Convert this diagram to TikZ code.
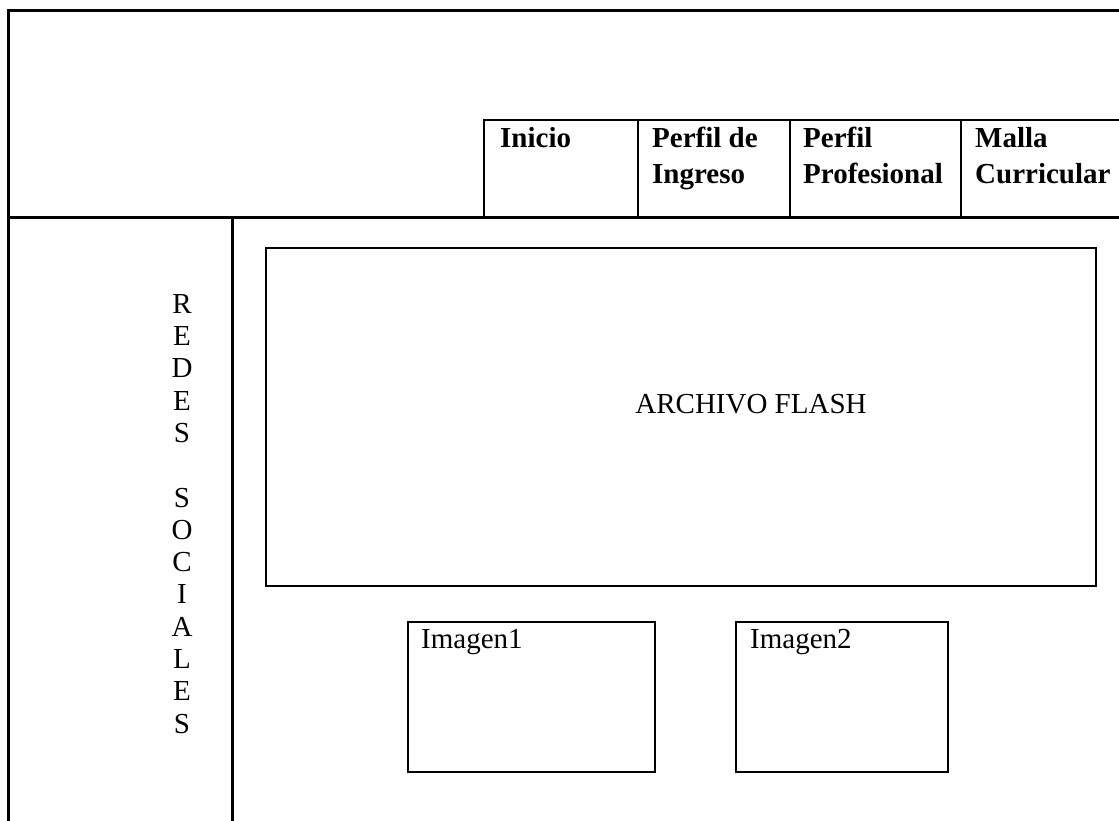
\documentclass[tikz,border=0pt]{standalone}
\usepackage{fontspec}
\setmainfont{Liberation Serif}
\begin{document}
\begin{tikzpicture}[x=1pt,y=-1pt,
  frame/.style={line width=3pt,line cap=rect},
  boxline/.style={line width=2.6pt},
  navtxt/.style={anchor=north west,inner sep=0pt,align=left,font=\fontsize{29}{36}\selectfont\bfseries},
  bodytxt/.style={inner sep=0pt,font=\fontsize{29}{33}\selectfont},
  sidetxt/.style={inner sep=0pt,font=\fontsize{29}{32.3}\selectfont}]
\useasboundingbox (0,0) rectangle (1119,820);
% outer frame
\coordinate (tl) at (8,10);
\coordinate (tr) at (1119,10);
\coordinate (bl) at (8,820);
\coordinate (hl) at (8,217);
\coordinate (hr) at (1119,217);
\coordinate (st) at (232,217);
\coordinate (sb) at (232,820);
\draw[frame] (bl) -- (tl) -- (tr);
\draw[frame] (hl) -- (hr);
\draw[frame] (st) -- (sb);
% navigation table
\coordinate (n0t) at (484,120); \coordinate (n0b) at (484,217);
\coordinate (n1t) at (638,120); \coordinate (n1b) at (638,217);
\coordinate (n2t) at (790,120); \coordinate (n2b) at (790,217);
\coordinate (n3t) at (961,120); \coordinate (n3b) at (961,217);
\coordinate (nrt) at (1119,120);
\draw[boxline] (n0b) -- (n0t) -- (nrt);
\draw[boxline] (n1t) -- (n1b);
\draw[boxline] (n2t) -- (n2b);
\draw[boxline] (n3t) -- (n3b);
\node[navtxt] (inicio) at (500,127) {Inicio};
\node[navtxt] (ingreso) at (652,127) {Perfil de\\Ingreso};
\node[navtxt] (profesional) at (803,127) {Perfil\\Profesional};
\node[navtxt] (malla) at (975,127) {Malla\\Curricular};
% side bar text
\node[sidetxt,anchor=north,align=center] (redes) at (182,294) {R\\E\\D\\E\\S\\\mbox{}\\S\\O\\C\\I\\A\\L\\E\\S};
% flash box
\node[draw,boxline,minimum width=830pt,minimum height=338pt,inner sep=0pt] (flash) at (681,417) {};
\node[bodytxt,anchor=base] (flashtxt) at (751,413) {ARCHIVO FLASH};
% images
\node[draw,boxline,minimum width=247pt,minimum height=150pt,inner sep=0pt] (img1) at (531.5,697) {};
\node[bodytxt,anchor=base west] (img1txt) at (421,648) {Imagen1};
\node[draw,boxline,minimum width=212pt,minimum height=150pt,inner sep=0pt] (img2) at (842,697) {};
\node[bodytxt,anchor=base west] (img2txt) at (750,648) {Imagen2};
\end{tikzpicture}
\end{document}
